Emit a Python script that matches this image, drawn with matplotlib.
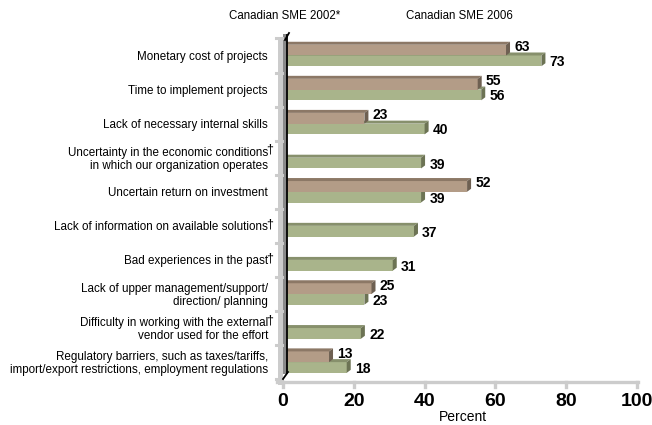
import matplotlib
matplotlib.use("Agg")
import matplotlib.pyplot as plt
from matplotlib import transforms
from matplotlib.patches import Polygon, Rectangle
from matplotlib.lines import Line2D

plt.rcParams['font.family'] = ['Liberation Sans', 'DejaVu Sans']

# Barriers to IT projects, share of respondents (%)
categories = [
    "Monetary cost of projects",
    "Time to implement projects",
    "Lack of necessary internal skills",
    "Uncertainty in the economic conditions\nin which our organization operates",
    "Uncertain return on investment",
    "Lack of information on available solutions",
    "Bad experiences in the past",
    "Lack of upper management/support/\ndirection/ planning",
    "Difficulty in working with the external\nvendor used for the effort",
    "Regulatory barriers, such as taxes/tariffs,\nimport/export restrictions, employment regulations",
]
dagger = [False, False, False, True, False, True, True, False, True, False]
sme_2002 = [63, 55, 23, None, 52, None, None, 25, None, 13]
sme_2006 = [73, 56, 40, 39, 39, 37, 31, 23, 22, 18]
series_names = ["Canadian SME 2002*", "Canadian SME 2006"]
xticks = [0, 20, 40, 60, 80, 100]

# face / top / side colours for each series
brown = ("#b39c87", "#8c7866", "#6e6052")
green = ("#a9b48b", "#87906c", "#6c7354")

W, H = 652, 425
fig = plt.figure(figsize=(W / 100, H / 100), dpi=100)
ax = fig.add_axes([283 / W, 1 - 381 / H, 354 / W, 345 / H])
ax.set_xlim(0, 100)
ax.set_ylim(9.554, -0.572)
ax.axis("off")

px_per_x = 354 / 100
px_per_y = 34.07
dx = 4 / px_per_x          # depth of the 3D bars
dy = -3 / px_per_y
h = 0.315


def bar3d(v, y0, colors, label_shift):
    face, top, side = colors
    y1 = y0 + h
    ax.add_patch(Rectangle((0, y0), v, h, facecolor=face, edgecolor="none", zorder=2))
    ax.add_patch(Polygon([(0, y0), (v, y0), (v + dx, y0 + dy), (dx, y0 + dy)],
                         closed=True, facecolor=top, edgecolor="none", zorder=2))
    ax.add_patch(Polygon([(v, y0), (v, y1), (v + dx, y1 + dy), (v + dx, y0 + dy)],
                         closed=True, facecolor=side, edgecolor="none", zorder=2))
    ax.annotate(f"{v}", (v + dx, y0 + h / 2), xytext=(3, -label_shift * 0.72),
                textcoords="offset points", ha="left", va="center",
                fontsize=10, fontweight="bold", zorder=3)


# green bars first so the brown ones sit on top of their top face
for i, v in enumerate(sme_2006):
    bar3d(v, i, green, 1.5)
for i, v in enumerate(sme_2002):
    if v is not None:
        bar3d(v, i - h, brown, -3)

# pixel-based transforms for the chart frame
px = transforms.Affine2D().scale(1 / 100, -1 / 100).translate(0, H / 100) + fig.dpi_scale_trans
px_x_data_y = transforms.blended_transform_factory(px, ax.transData)
data_x_px_y = transforms.blended_transform_factory(ax.transData, px)

# side wall
fig.add_artist(Rectangle((278, 38), 4.5, 347, transform=px, facecolor="#cccccc",
                         edgecolor="none", zorder=5))
fig.add_artist(Rectangle((282.5, 34), 4, 340, transform=px, facecolor="#8a8a8a",
                         edgecolor="none", zorder=5))
fig.add_artist(Line2D([287, 287], [35, 373], transform=px, color="black", lw=1.3, zorder=6))
fig.add_artist(Line2D([285, 289], [40, 33], transform=px, color="black", lw=1.3, zorder=6))
fig.add_artist(Line2D([283, 288], [379, 372], transform=px, color="black", lw=1.3, zorder=6))
for i in range(len(categories) + 1):
    fig.add_artist(Line2D([276, 282], [i - 0.5, i - 0.5], transform=px_x_data_y,
                          color="#cccccc", lw=2.2, zorder=5))

# floor / value axis
fig.add_artist(Line2D([277, 638], [382, 382], transform=px, color="#cccccc", lw=2.4, zorder=5))
for t in xticks:
    fig.add_artist(Line2D([t, t], [382, 387], transform=data_x_px_y, color="#cccccc",
                          lw=2.4, zorder=5))
    fig.text(t, 401, str(t), transform=data_x_px_y, ha="center", va="center",
             fontsize=14, fontweight="bold")
fig.text(463 / W, 1 - 417 / H, "Percent", ha="center", va="center", fontsize=10)

# category labels
for i, (c, d) in enumerate(zip(categories, dagger)):
    yc = i + 1.5 / px_per_y
    ax.text(268, yc, c, transform=px_x_data_y, ha="right", va="center", fontsize=8.4,
            multialignment="right", linespacing=1.15)
    if d:
        nlines = c.count("\n") + 1
        ytop = yc - (nlines - 1) * 6.5 / px_per_y - 3 / px_per_y
        ax.text(266.5, ytop, "\u2020", transform=px_x_data_y, ha="left", va="center",
                fontsize=9)

# series headers
fig.text(284.5 / W, 1 - 16 / H, series_names[0], ha="center", va="center", fontsize=8.3)
fig.text(459 / W, 1 - 16 / H, series_names[1], ha="center", va="center", fontsize=8.3)

fig.savefig("out.png", dpi=100)
